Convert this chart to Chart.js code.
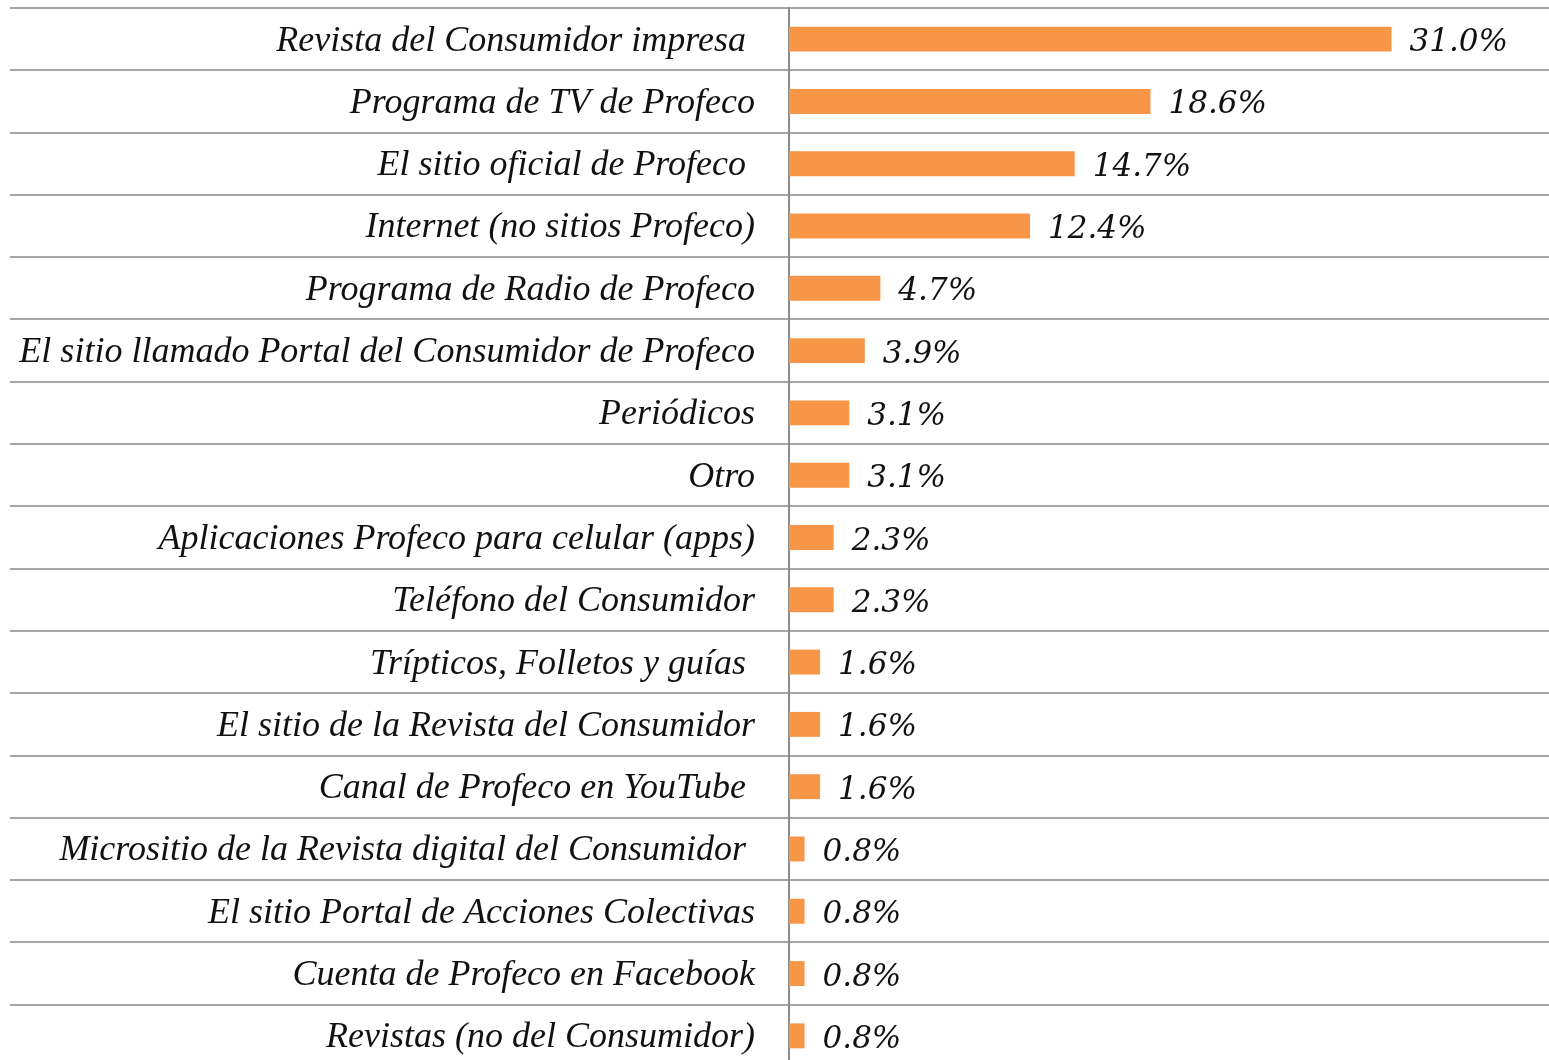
<!DOCTYPE html>
<html>
<head>
<meta charset="utf-8">
<script src="https://cdn.jsdelivr.net/npm/chart.js@4.4.1/dist/chart.umd.min.js"></script>
<style>
  html, body { margin: 0; padding: 0; background: #fff; overflow: hidden; }
  #wrap { width: 1549px; height: 1067px; }
</style>
</head>
<body>
<div id="wrap"><canvas id="medios_chart"></canvas></div>
<script>
// jshint esversion: 6

const labels = [
    'Revista del Consumidor impresa ',
    'Programa de TV de Profeco',
    'El sitio oficial de Profeco ',
    'Internet (no sitios Profeco)',
    'Programa de Radio de Profeco',
    'El sitio llamado Portal del Consumidor de Profeco',
    'Periódicos',
    'Otro',
    'Aplicaciones Profeco para celular (apps)',
    'Teléfono del Consumidor',
    'Trípticos, Folletos y guías ',
    'El sitio de la Revista del Consumidor',
    'Canal de Profeco en YouTube ',
    'Micrositio de la Revista digital del Consumidor ',
    'El sitio Portal de Acciones Colectivas',
    'Cuenta de Profeco en Facebook',
    'Revistas (no del Consumidor)'
];
const values = [31.0, 18.6, 14.7, 12.4, 4.7, 3.9, 3.1, 3.1, 2.3, 2.3, 1.6, 1.6, 1.6, 0.8, 0.8, 0.8, 0.8];

const font_family = '"Liberation Serif", serif';

// percentage text at the end of each bar
const value_labels = {
    id: 'value_labels',
    afterDatasetsDraw(chart) {
        const ctx = chart.ctx;
        const meta = chart.getDatasetMeta(0);
        ctx.save();
        ctx.font = 'italic 31px "DejaVu Serif", serif';
        ctx.fillStyle = '#111';
        ctx.textAlign = 'left';
        ctx.textBaseline = 'middle';
        meta.data.forEach(function(bar, i){
            ctx.fillText(values[i].toFixed(1) + '%', bar.x + 18, bar.y + 4);
        });
        ctx.restore();
    }
};

const ctx = document.getElementById('medios_chart').getContext('2d');
let myChart = new Chart(ctx, {
    type: 'bar',
    data: {
        labels: labels,
        datasets: [{
            data: values,
            backgroundColor: '#F79646',
            borderWidth: 0,
            barPercentage: 0.8,
            categoryPercentage: 0.5
        }]
    },
    plugins: [value_labels],
    options: {
        indexAxis: 'y',
        responsive: true,
        maintainAspectRatio: false,
        animation: false,
        layout: { padding: { top: 8, left: 10, right: 0, bottom: 0 } },
        plugins: {
            legend: { display: false },
            tooltip: { enabled: false }
        },
        scales: {
            x: {
                display: false,
                min: 0,
                max: 39.1
            },
            y: {
                afterFit(scale) { scale.width = 779; },
                grid: {
                    offset: true,
                    color: '#a6a6a6',
                    lineWidth: 2,
                    tickLength: 779
                },
                border: { color: '#8c8c8c', width: 2 },
                ticks: {
                    padding: -745,
                    labelOffset: 2,
                    color: '#111',
                    font: { family: font_family, size: 36, style: 'italic' }
                }
            }
        }
    }
});
</script>
</body>
</html>
